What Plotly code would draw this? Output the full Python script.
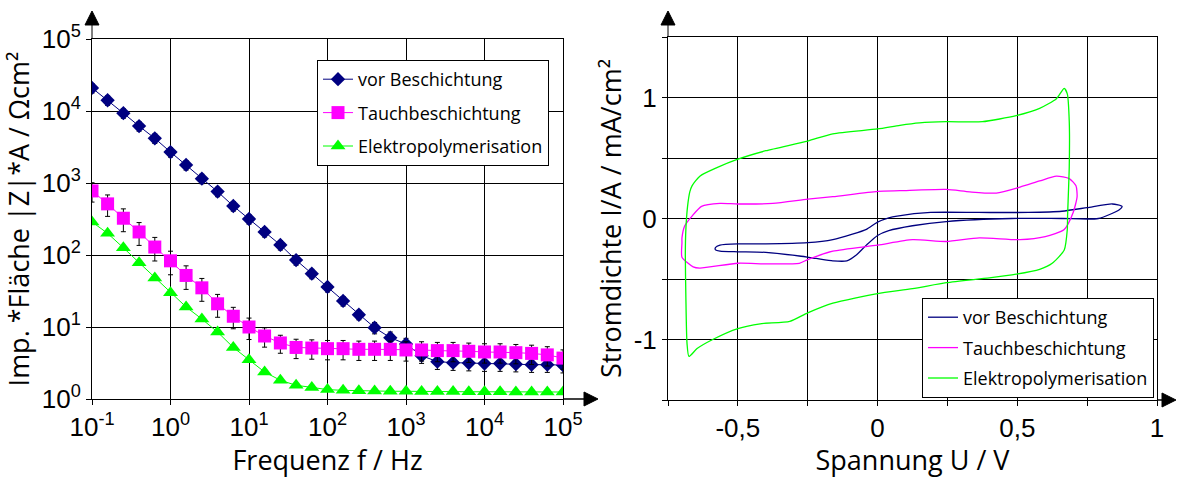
import plotly.graph_objects as go

# ---------------- data ----------------
series_names = ["vor Beschichtung", "Tauchbeschichtung", "Elektropolymerisation"]

freq = [0.1, 0.158, 0.251, 0.398, 0.631, 1.0, 1.58, 2.51, 3.98, 6.31,
        10, 15.8, 25.1, 39.8, 63.1, 100, 158, 251, 398, 631,
        1000, 1580, 2510, 3980, 6310, 10000, 15800, 25100, 39800, 63100, 100000]

z_vor = [20900, 14100, 9330, 6170, 4170, 2690, 1780, 1150, 759, 479,
         316, 209, 138, 85, 55, 36, 23, 14.8, 9.8, 7.1,
         5.8, 4.0, 3.3, 3.2, 3.15, 3.1, 3.1, 3.05, 3.0, 3.0, 2.95]
z_tauch = [776, 513, 324, 209, 129, 83, 52, 35, 21, 14.1,
           10, 7.5, 6.0, 5.2, 5.1, 5.0, 5.0, 4.9, 4.9, 4.9,
           4.8, 4.8, 4.7, 4.7, 4.6, 4.5, 4.5, 4.4, 4.3, 4.1, 3.7]
z_elektro = [288, 200, 126, 78, 48, 30, 19, 12.9, 8.5, 5.2,
             3.5, 2.37, 1.82, 1.55, 1.45, 1.35, 1.32, 1.30, 1.29, 1.28,
             1.28, 1.27, 1.27, 1.27, 1.26, 1.26, 1.26, 1.25, 1.25, 1.25, 1.25]

# relative standard deviations
err_vor_rel = [0.15, 0.15, 0.15, 0.15, 0.15, 0.15, 0.15, 0.15, 0.15, 0.15,
               0.15, 0.15, 0.15, 0.15, 0.15, 0.15, 0.15, 0.15, 0.18, 0.2,
               0.2, 0.22, 0.22, 0.22, 0.22, 0.22, 0.22, 0.22, 0.22, 0.22, 0.22]
err_tauch_rel = [0.3, 0.33, 0.35, 0.35, 0.36, 0.36, 0.36, 0.35, 0.35, 0.33,
                 0.33, 0.3, 0.28, 0.3, 0.3, 0.3, 0.3, 0.3, 0.3, 0.3,
                 0.3, 0.3, 0.3, 0.3, 0.3, 0.3, 0.3, 0.3, 0.3, 0.3, 0.3]

x_tickvals = [0.1, 1, 10, 100, 1000, 10000, 100000]
x_ticktext = ["10<sup>-1</sup>", "10<sup>0</sup>", "10<sup>1</sup>", "10<sup>2</sup>",
              "10<sup>3</sup>", "10<sup>4</sup>", "10<sup>5</sup>"]
y_tickvals = [1, 10, 100, 1000, 10000, 100000]
y_ticktext = ["10<sup>0</sup>", "10<sup>1</sup>", "10<sup>2</sup>", "10<sup>3</sup>",
              "10<sup>4</sup>", "10<sup>5</sup>"]

# cyclic voltammograms (U in V, I/A in mA/cm2)
cv_u_vor = [-0.58, -0.564, -0.50, -0.40, -0.25, -0.16, -0.09, -0.04, 0.0, 0.04, 0.07,
            0.19, 0.36, 0.54, 0.66, 0.75, 0.84, 0.875, 0.864, 0.79, 0.66, 0.48,
            0.246, 0.125, 0.04, 0.0, -0.04, -0.075, -0.11, -0.16, -0.22, -0.28,
            -0.40, -0.50, -0.564, -0.58, -0.58]
cv_i_vor = [-0.24, -0.22, -0.21, -0.21, -0.20, -0.175, -0.13, -0.09, -0.03, 0.005, 0.02,
            0.05, 0.05, 0.05, 0.06, 0.09, 0.12, 0.10, 0.07, 0.0, 0.0, 0.0,
            -0.025, -0.06, -0.10, -0.14, -0.22, -0.30, -0.35, -0.35, -0.33, -0.31,
            -0.28, -0.275, -0.27, -0.26, -0.24]

cv_u_tauch = [-0.70, -0.69, -0.664, -0.63, -0.564, -0.50, -0.375, -0.25, -0.16, 0.0,
              0.08, 0.246, 0.33, 0.425, 0.51, 0.58, 0.64, 0.686, 0.71, 0.714,
              0.70, 0.668, 0.60, 0.51, 0.364, 0.246, 0.125, 0.0, -0.16, -0.25,
              -0.28, -0.40, -0.50, -0.636, -0.66, -0.70, -0.70, -0.70]
cv_i_tauch = [-0.16, -0.06, 0.02, 0.10, 0.125, 0.12, 0.125, 0.16, 0.18, 0.225,
              0.23, 0.24, 0.22, 0.21, 0.26, 0.31, 0.35, 0.33, 0.27, 0.18,
              0.05, -0.09, -0.15, -0.175, -0.16, -0.19, -0.175, -0.22, -0.27, -0.34,
              -0.37, -0.375, -0.37, -0.41, -0.40, -0.32, -0.20, -0.16]

cv_u_elektro = [-0.675, -0.682, -0.686, -0.688, -0.686, -0.680, -0.672, -0.664, -0.636,
                -0.575, -0.50, -0.40, -0.25, -0.16, 0.0, 0.08, 0.15, 0.246, 0.375,
                0.496, 0.58, 0.64, 0.668, 0.679, 0.686, 0.686, 0.68, 0.679, 0.668,
                0.625, 0.58, 0.496, 0.40, 0.246, 0.125, 0.0, -0.16, -0.25, -0.314,
                -0.42, -0.50, -0.59, -0.646, -0.675]
cv_i_elektro = [-1.14, -1.03, -0.65, -0.30, -0.09, 0.10, 0.22, 0.27, 0.35,
                0.42, 0.49, 0.56, 0.64, 0.70, 0.74, 0.77, 0.79, 0.80, 0.80,
                0.85, 0.91, 0.99, 1.075, 1.03, 0.80, 0.43, 0.02, -0.09, -0.26,
                -0.37, -0.42, -0.46, -0.49, -0.53, -0.58, -0.62, -0.70, -0.78, -0.85,
                -0.87, -0.91, -1.0, -1.075, -1.14]

u_tickvals = [-0.5, 0, 0.5, 1]
u_ticktext = ["-0,5", "0", "0,5", "1"]
i_tickvals = [-1, 0, 1]
i_ticktext = ["-1", "0", "1"]

colors = ["#000080", "#FF00FF", "#00FF00"]

# ---------------- figure ----------------
W, H = 1177, 478


def px(x, y):
    return x / W, 1 - y / H


fig = go.Figure()

z_series = [z_vor, z_tauch, z_elektro]
err_series = [err_vor_rel, err_tauch_rel, None]
symbols = ["diamond", "square", "triangle-up"]
sizes = [11, 13, 13]
for k in range(3):
    err = None
    if err_series[k] is not None:
        vals = [v * e for v, e in zip(z_series[k], err_series[k])]
        err = dict(type="data", array=vals, arrayminus=vals, color="black",
                   thickness=1, width=2.5)
    fig.add_trace(go.Scatter(
        x=freq, y=z_series[k], name=series_names[k], mode="lines+markers",
        line=dict(color=colors[k], width=1),
        marker=dict(symbol=symbols[k], size=sizes[k], color=colors[k]),
        error_y=err, xaxis="x", yaxis="y", legend="legend",
        legendgroup="l%d" % k,
    ))

cv_u = [cv_u_vor, cv_u_tauch, cv_u_elektro]
cv_i = [cv_i_vor, cv_i_tauch, cv_i_elektro]
for k in range(3):
    fig.add_trace(go.Scatter(
        x=cv_u[k], y=cv_i[k], name=series_names[k], mode="lines",
        line=dict(color=colors[k], width=1.3, shape="spline", smoothing=0.6),
        xaxis="x2", yaxis="y2", legend="legend2", legendgroup="r%d" % k,
    ))

tick_font = dict(family="Liberation Sans, Arial, sans-serif", size=26, color="black")
title_font = dict(family="Open Sans, sans-serif", size=27, color="black")
axis_common = dict(showgrid=True, gridcolor="black", gridwidth=1, showline=True,
                   linecolor="black", linewidth=1, mirror=True, ticks="outside",
                   ticklen=5, tickcolor="black", zeroline=False, tickfont=tick_font,
                   title_font=title_font)
minor_common = dict(showgrid=True, gridcolor="black", gridwidth=1, ticks="outside",
                    ticklen=5, tickcolor="black", tick0=0)

l_x0, l_x1, l_y0, l_y1 = 92, 563, 399, 39
r_x0, r_x1, r_y0, r_y1 = 668, 1157, 400, 37

fig.update_layout(
    width=W, height=H, template="none",
    margin=dict(l=0, r=0, t=0, b=0),
    paper_bgcolor="white", plot_bgcolor="white",
    xaxis=dict(type="log", range=[-1, 5], domain=[l_x0 / W, l_x1 / W],
               tickvals=x_tickvals, ticktext=x_ticktext,
               title=dict(text="Frequenz f / Hz", standoff=4), anchor="y",
               **axis_common),
    yaxis=dict(type="log", range=[0, 5], domain=[1 - l_y0 / H, 1 - l_y1 / H],
               tickvals=y_tickvals, ticktext=y_ticktext,
               title=dict(text="Imp. *Fläche |Z|*A / Ωcm²", standoff=4), anchor="x",
               **axis_common),
    xaxis2=dict(range=[-0.75, 1], domain=[r_x0 / W, r_x1 / W],
                tickvals=u_tickvals, ticktext=u_ticktext,
                minor=dict(dtick=0.25, **minor_common),
                title=dict(text="Spannung U / V", standoff=4), anchor="y2",
                **axis_common),
    yaxis2=dict(range=[-1.5, 1.5], domain=[1 - r_y0 / H, 1 - r_y1 / H],
                tickvals=i_tickvals, ticktext=i_ticktext,
                minor=dict(dtick=0.5, **minor_common),
                title=dict(text="Stromdichte I/A / mA/cm²", standoff=4), anchor="x2",
                **axis_common),
    legend=dict(x=317 / W, y=1 - 60 / H, xanchor="left", yanchor="top",
                bordercolor="black", borderwidth=1, bgcolor="white",
                font=dict(family="Open Sans, sans-serif", size=18, color="black"),
                tracegroupgap=7),
    legend2=dict(x=922 / W, y=1 - 298 / H, xanchor="left", yanchor="top",
                 bordercolor="black", borderwidth=1, bgcolor="white",
                 font=dict(family="Open Sans, sans-serif", size=18, color="black"),
                 tracegroupgap=4),
    showlegend=True,
)

# axis arrows
shapes = []


def arrow_up(x, ytop_axis):
    xa, ya = px(x, ytop_axis)
    xb, yb = px(x, 25)
    shapes.append(dict(type="line", xref="paper", yref="paper", x0=xa, y0=ya, x1=xb, y1=yb,
                       line=dict(color="black", width=1)))
    p1 = px(x - 7, 25)
    p2 = px(x + 7, 25)
    p3 = px(x, 11)
    shapes.append(dict(type="path", xref="paper", yref="paper",
                       path="M %f %f L %f %f L %f %f Z" % (p1 + p2 + p3),
                       fillcolor="black", line=dict(color="black", width=1)))


def arrow_right(xaxis_end, y, xtip):
    xa, ya = px(xaxis_end, y)
    xb, yb = px(xtip - 14, y)
    shapes.append(dict(type="line", xref="paper", yref="paper", x0=xa, y0=ya, x1=xb, y1=yb,
                       line=dict(color="black", width=1.5)))
    p1 = px(xtip - 14, y - 7)
    p2 = px(xtip - 14, y + 7)
    p3 = px(xtip, y)
    shapes.append(dict(type="path", xref="paper", yref="paper",
                       path="M %f %f L %f %f L %f %f Z" % (p1 + p2 + p3),
                       fillcolor="black", line=dict(color="black", width=1)))


arrow_up(l_x0, l_y1)
arrow_right(l_x1, l_y0, 598)
arrow_up(r_x0, r_y1)
arrow_right(r_x1, r_y0, 1176)
fig.update_layout(shapes=shapes)

fig.write_html("out.html", config={"displayModeBar": False},
               post_script="document.body.style.margin='0';document.body.style.overflow='hidden';")
